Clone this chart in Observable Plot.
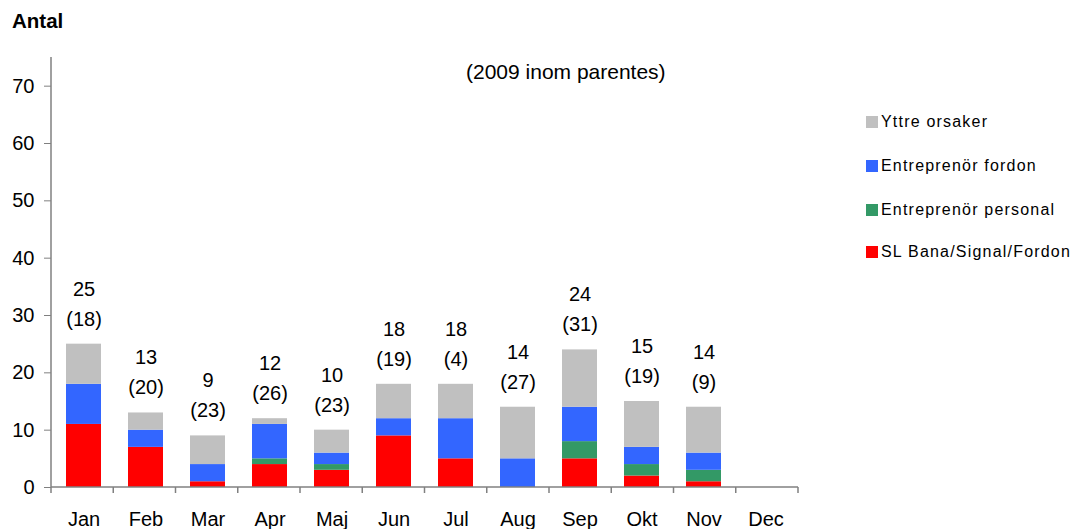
<!DOCTYPE html>
<html>
<head>
<meta charset="utf-8">
<script src="https://cdn.jsdelivr.net/npm/d3@7"></script>
<script src="https://cdn.jsdelivr.net/npm/@observablehq/plot@0.6"></script>
<style>
  body { margin: 0; background: #fff; font-family: "Liberation Sans", Arial, sans-serif; }
  #wrap { position: relative; width: 1078px; height: 529px; overflow: hidden; }
  #chart { position: absolute; left: 0; top: 0; }
  #title { position: absolute; left: 12px; top: 9px; font-weight: bold; font-size: 20.5px; color: #000; }
  #note { position: absolute; left: 466px; top: 60px; font-size: 21px; color: #000; white-space: nowrap; }
  #legend { position: absolute; left: 866px; top: 0; font-size: 16px; letter-spacing: 1.2px; color: #000; }
  .li { position: absolute; left: 0; white-space: nowrap; display: flex; align-items: center; height: 20px; }
  .sw { width: 12px; height: 12px; margin-right: 3px; flex: none; }
</style>
</head>
<body>
<div id="wrap">
  <div id="chart"></div>
  <div id="title">Antal</div>
  <div id="note">(2009 inom parentes)</div>
  <div id="legend"></div>
</div>
<script>
const months = ["Jan","Feb","Mar","Apr","Maj","Jun","Jul","Aug","Sep","Okt","Nov","Dec"];
const slBana      = [11, 7, 1, 4, 3, 9, 5, 0, 5, 2, 1, null];
const entPersonal = [ 0, 0, 0, 1, 1, 0, 0, 0, 3, 2, 2, null];
const entFordon   = [ 7, 3, 3, 6, 2, 3, 7, 5, 6, 3, 3, null];
const yttre       = [ 7, 3, 5, 1, 4, 6, 6, 9,10, 8, 8, null];
const totals2010  = [25,13, 9,12,10,18,18,14,24,15,14, null];
const totals2009  = [18,20,23,26,23,19, 4,27,31,19, 9, null];
const seriesNames = ["SL Bana/Signal/Fordon","Entreprenör personal","Entreprenör fordon","Yttre orsaker"];
const seriesColors = ["#FF0000","#339966","#3366FF","#C0C0C0"];
const yTicks = [0,10,20,30,40,50,60,70];

const seriesValues = [slBana, entPersonal, entFordon, yttre];
const rows = [];
seriesNames.forEach((s, si) => {
  months.forEach((m, i) => {
    const v = seriesValues[si][i];
    if (v != null && v > 0) rows.push({month: m, series: s, value: v});
  });
});
const labels = months.map((m, i) => ({month: m, total: totals2010[i], prev: totals2009[i]}))
  .filter(d => d.total != null);

const axisColor = "#808080";

const chart = Plot.plot({
  width: 1078,
  height: 529,
  marginLeft: 51,
  marginRight: 280,
  marginTop: 57,
  marginBottom: 42,
  style: {fontFamily: "'Liberation Sans', Arial, sans-serif", background: "transparent"},
  x: {domain: months, type: "band", paddingInner: 0.44, paddingOuter: 0.22, label: null},
  y: {domain: [0, 75], label: null},
  color: {domain: seriesNames, range: seriesColors},
  marks: [
    Plot.barY(rows, {x: "month", y: "value", fill: "series", z: "series", order: seriesNames}),
    Plot.axisY({ticks: yTicks, tickSize: 7, tickPadding: 10, fontSize: 20, stroke: axisColor, fill: "#000", label: null}),
    Plot.axisX({tickSize: 0, tickPadding: 24, fontSize: 20, fill: "#000", label: null}),
    Plot.text(labels, {x: "month", y: "total", text: d => String(d.total), dy: -55, fontSize: 20, fill: "#000"}),
    Plot.text(labels, {x: "month", y: "total", text: d => "(" + d.prev + ")", dy: -25, fontSize: 20, fill: "#000"})
  ]
});
document.getElementById("chart").appendChild(chart);

// Axis lines and category boundary ticks, positioned from Plot's own scales
const xs = chart.scale("x");
const ys = chart.scale("y");
const svg = d3.select(chart);
const g = svg.append("g").attr("stroke", axisColor).attr("stroke-width", 1.5).attr("fill", "none");
const y0 = ys.apply(0);
const yTop = ys.apply(ys.domain[1]);
const [r0, r1] = xs.range;
g.append("line").attr("x1", r0).attr("x2", r0).attr("y1", yTop).attr("y2", y0);
g.append("line").attr("x1", r0).attr("x2", r1).attr("y1", y0).attr("y2", y0);
const step = (r1 - r0) / months.length;
for (let i = 0; i <= months.length; i++) {
  const xv = r0 + i * step;
  g.append("line").attr("x1", xv).attr("x2", xv).attr("y1", y0).attr("y2", y0 + 6);
}

// Legend (top item = top of stack)
const legendTops = [112, 156, 200, 242];
const legend = document.getElementById("legend");
const order = [3, 2, 1, 0];
order.forEach((si, k) => {
  const div = document.createElement("div");
  div.className = "li";
  div.style.top = legendTops[k] + "px";
  const sw = document.createElement("span");
  sw.className = "sw";
  sw.style.background = seriesColors[si];
  const tx = document.createElement("span");
  tx.textContent = seriesNames[si];
  div.appendChild(sw);
  div.appendChild(tx);
  legend.appendChild(div);
});
</script>
</body>
</html>
